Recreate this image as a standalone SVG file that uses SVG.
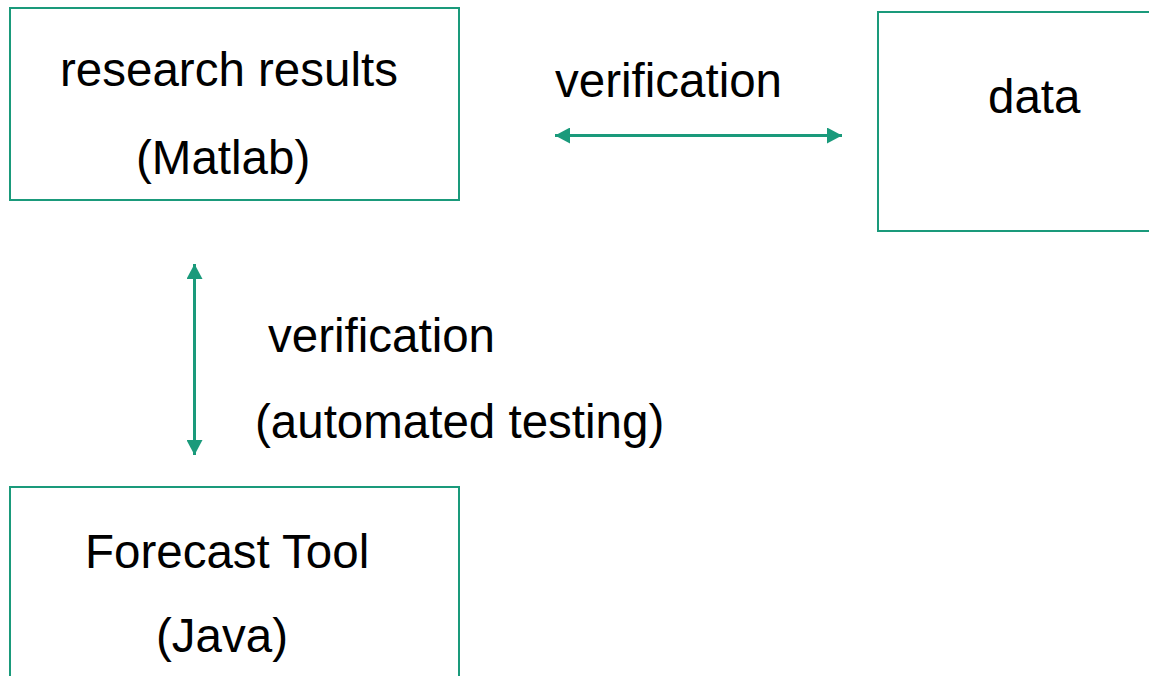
<svg xmlns="http://www.w3.org/2000/svg" width="1149" height="676" viewBox="0 0 1149 676">
<style>
.box{fill:#ffffff;stroke:#1a9a7b;stroke-width:2}
.t{font-family:"Liberation Sans",Arial,sans-serif;font-size:47.5px;fill:#000000}
.c{stroke:#1a9a7b;stroke-width:3;fill:none}
</style>
<defs>
<marker id="ah" viewBox="0 0 15 16" refX="15" refY="8" markerWidth="15" markerHeight="16" markerUnits="userSpaceOnUse" orient="auto-start-reverse">
<path d="M0,0 L15,8 L0,16 Z" fill="#1a9a7b"/>
</marker>
</defs>
<rect width="1149" height="676" fill="#ffffff"/>
<g id="research">
<rect class="box" x="10" y="8" width="449" height="192"/>
<text class="t" x="60" y="86">research results</text>
<text class="t" x="136" y="174">(Matlab)</text>
</g>
<g id="data">
<rect class="box" x="878" y="12" width="290" height="219"/>
<text class="t" x="988" y="113">data</text>
</g>
<g id="forecast">
<rect class="box" x="10" y="487" width="449" height="200"/>
<text class="t" x="85" y="568">Forecast Tool</text>
<text class="t" x="156" y="652">(Java)</text>
</g>
<g id="connectors">
<line class="c" x1="555" y1="135.5" x2="842" y2="135.5" marker-start="url(#ah)" marker-end="url(#ah)"/>
<text class="t" x="555" y="97">verification</text>
<line class="c" x1="194.5" y1="264" x2="194.5" y2="455" marker-start="url(#ah)" marker-end="url(#ah)"/>
<text class="t" x="268" y="352">verification</text>
<text class="t" x="255" y="438">(automated testing)</text>
</g>
</svg>
